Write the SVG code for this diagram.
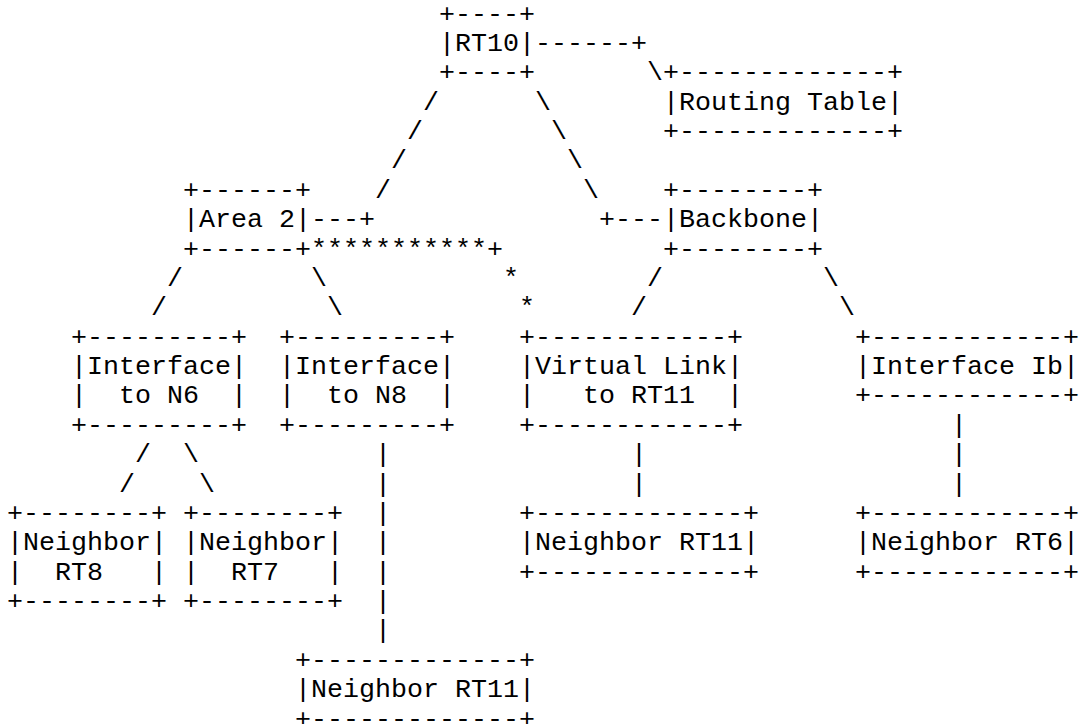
<svg xmlns="http://www.w3.org/2000/svg" width="1082" height="724" viewBox="0 0 1082 724" xml:space="preserve">
<style>
text { font-family: "Liberation Mono", "DejaVu Sans Mono", monospace; font-size: 26.667px; fill: #000; white-space: pre; }
</style>
<rect width="1082" height="724" fill="#fff"/>
<g id="connectors">
<text x="535" y="50.875">------+</text>
<text x="647" y="80.25">\</text>
<text x="423" y="109.625">/</text><text x="535" y="109.625">\</text>
<text x="407" y="139">/</text><text x="551" y="139">\</text>
<text x="391" y="168.375">/</text><text x="567" y="168.375">\</text>
<text x="375" y="197.75">/</text><text x="583" y="197.75">\</text>
<text x="311" y="227.125">---+</text><text x="599" y="227.125">+---</text>
<text x="311" y="256.5">***********+</text>
<text x="167" y="285.875">/</text><text x="311" y="285.875">\</text><text x="503" y="285.875">*</text><text x="647" y="285.875">/</text><text x="823" y="285.875">\</text>
<text x="151" y="315.25">/</text><text x="327" y="315.25">\</text><text x="519" y="315.25">*</text><text x="631" y="315.25">/</text><text x="839" y="315.25">\</text>
<text x="951" y="432.75">|</text>
<text x="135" y="462.125">/</text><text x="183" y="462.125">\</text><text x="375" y="462.125">|</text><text x="631" y="462.125">|</text><text x="951" y="462.125">|</text>
<text x="119" y="491.5">/</text><text x="199" y="491.5">\</text><text x="375" y="491.5">|</text><text x="631" y="491.5">|</text><text x="951" y="491.5">|</text>
<text x="375" y="520.875">|</text>
<text x="375" y="550.25">|</text>
<text x="375" y="579.625">|</text>
<text x="375" y="609">|</text>
<text x="375" y="638.375">|</text>
</g>
<g id="rt10">
<text x="439" y="21.5">+----+</text>
<text x="439" y="50.875">|RT10|</text>
<text x="439" y="80.25">+----+</text>
</g>
<g id="routing-table">
<text x="663" y="80.25">+-------------+</text>
<text x="663" y="109.625">|Routing Table|</text>
<text x="663" y="139">+-------------+</text>
</g>
<g id="area2">
<text x="183" y="197.75">+------+</text>
<text x="183" y="227.125">|Area 2|</text>
<text x="183" y="256.5">+------+</text>
</g>
<g id="backbone">
<text x="663" y="197.75">+--------+</text>
<text x="663" y="227.125">|Backbone|</text>
<text x="663" y="256.5">+--------+</text>
</g>
<g id="if-n6">
<text x="71" y="344.625">+---------+</text>
<text x="71" y="374">|Interface|</text>
<text x="71" y="403.375">|  to N6  |</text>
<text x="71" y="432.75">+---------+</text>
</g>
<g id="if-n8">
<text x="279" y="344.625">+---------+</text>
<text x="279" y="374">|Interface|</text>
<text x="279" y="403.375">|  to N8  |</text>
<text x="279" y="432.75">+---------+</text>
</g>
<g id="vlink">
<text x="519" y="344.625">+------------+</text>
<text x="519" y="374">|Virtual Link|</text>
<text x="519" y="403.375">|   to RT11  |</text>
<text x="519" y="432.75">+------------+</text>
</g>
<g id="if-ib">
<text x="855" y="344.625">+------------+</text>
<text x="855" y="374">|Interface Ib|</text>
<text x="855" y="403.375">+------------+</text>
</g>
<g id="nbr-rt8">
<text x="7" y="520.875">+--------+</text>
<text x="7" y="550.25">|Neighbor|</text>
<text x="7" y="579.625">|  RT8   |</text>
<text x="7" y="609">+--------+</text>
</g>
<g id="nbr-rt7">
<text x="183" y="520.875">+--------+</text>
<text x="183" y="550.25">|Neighbor|</text>
<text x="183" y="579.625">|  RT7   |</text>
<text x="183" y="609">+--------+</text>
</g>
<g id="nbr-rt11-vl">
<text x="519" y="520.875">+-------------+</text>
<text x="519" y="550.25">|Neighbor RT11|</text>
<text x="519" y="579.625">+-------------+</text>
</g>
<g id="nbr-rt6">
<text x="855" y="520.875">+------------+</text>
<text x="855" y="550.25">|Neighbor RT6|</text>
<text x="855" y="579.625">+------------+</text>
</g>
<g id="nbr-rt11-n8">
<text x="295" y="667.75">+-------------+</text>
<text x="295" y="697.125">|Neighbor RT11|</text>
<text x="295" y="726.5">+-------------+</text>
</g>
</svg>
